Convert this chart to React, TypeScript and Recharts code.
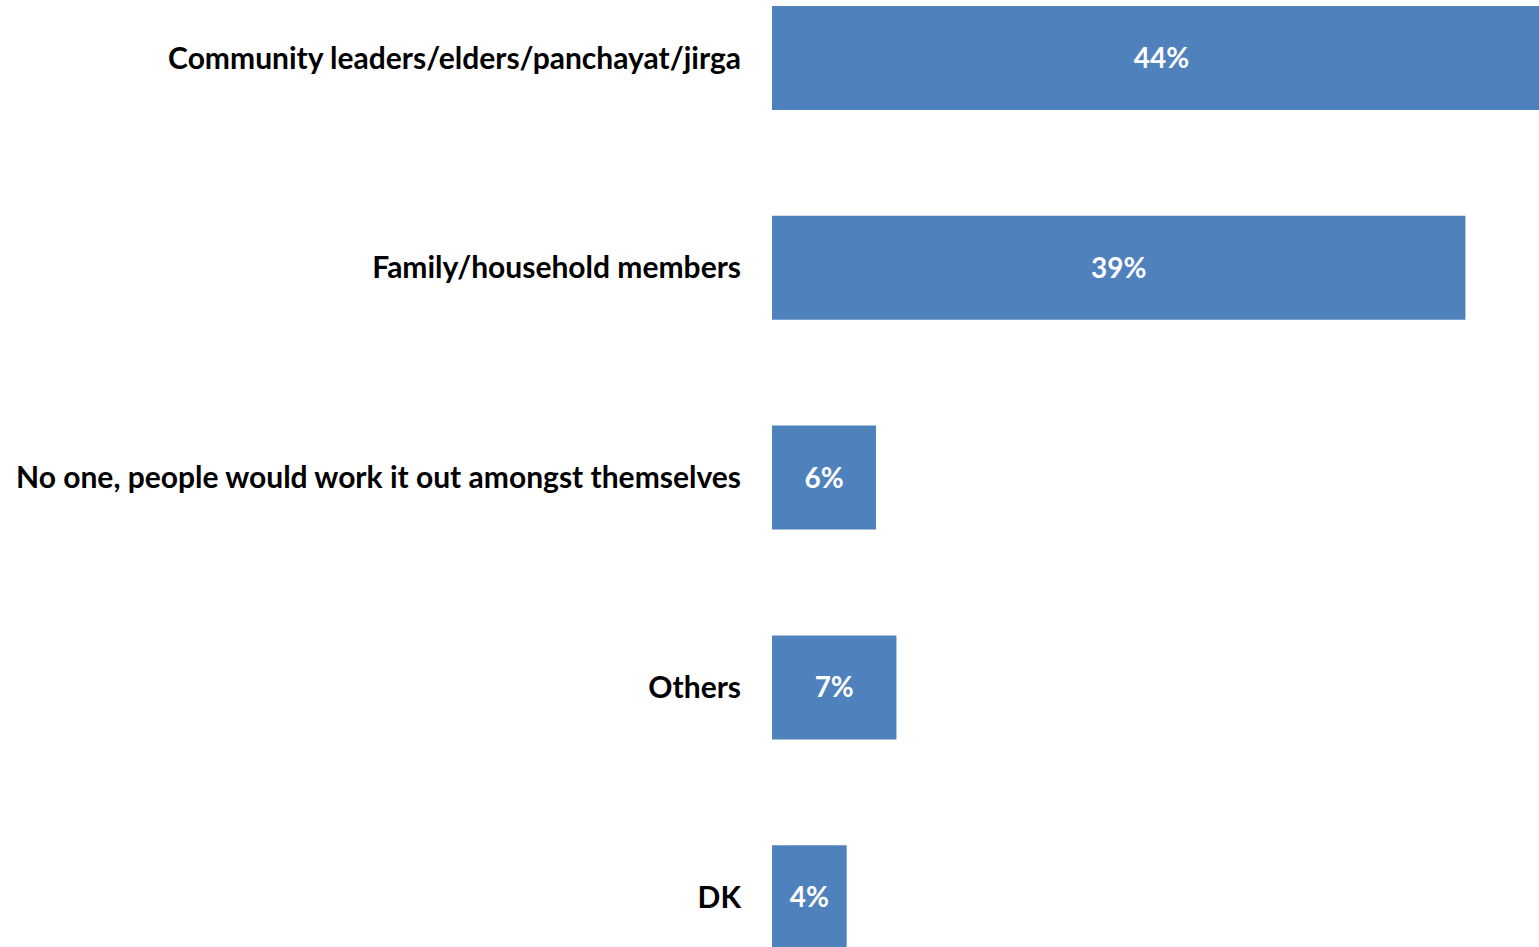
import React from "react";
import { BarChart, Bar, XAxis, YAxis, LabelList } from "recharts";

const categories = [
  "Community leaders/elders/panchayat/jirga",
  "Family/household members",
  "No one, people would work it out amongst themselves",
  "Others",
  "DK",
];
const values = [43.8, 39.0, 5.85, 7.0, 4.2];

const data = categories.map((name, i) => ({ name, value: values[i] }));

const FONT = "Lato, 'Open Sans', sans-serif";

export default function App() {
  return (
    <div
      style={{
        position: "fixed",
        left: 0,
        top: 0,
        width: 1539,
        height: 947,
        overflow: "hidden",
        background: "#fff",
      }}
    >
      <div style={{ position: "absolute", left: 0, top: -47 }}>
        <BarChart
          width={1661}
          height={1049}
          data={data}
          layout="vertical"
          margin={{ top: 0, right: 0, bottom: 0, left: 0 }}
        >
          <XAxis type="number" domain={[0, 50]} hide />
          <YAxis
            type="category"
            dataKey="name"
            width={772}
            axisLine={false}
            tickLine={false}
            tickMargin={25}
            interval={0}
            tick={{
              fill: "#000",
              fontSize: 30,
              fontWeight: 700,
              fontFamily: FONT,
            }}
          />
          <Bar dataKey="value" fill="#4F81BD" barSize={104} isAnimationActive={false}>
            <LabelList
              dataKey="value"
              position="center"
              formatter={(v: number) => `${Math.round(v)}%`}
              fill="#fff"
              style={{ fontSize: 28, fontWeight: 700, fontFamily: FONT }}
            />
          </Bar>
        </BarChart>
      </div>
    </div>
  );
}
